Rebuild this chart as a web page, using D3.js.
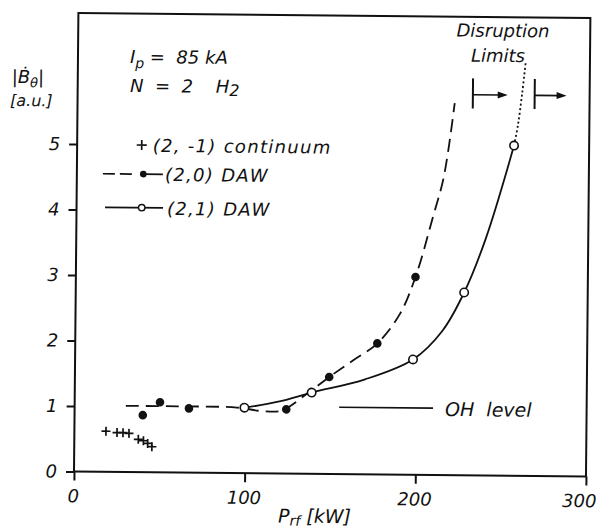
<!DOCTYPE html>
<html><head><meta charset="utf-8">
<script src="https://cdn.jsdelivr.net/npm/d3@7"></script>
<style>
html,body{margin:0;padding:0;background:#fff;}
svg text{font-family:"DejaVu Sans",sans-serif;font-style:oblique;fill:#111;}
</style></head><body>
<svg id="chart" width="597" height="529"></svg>
<script>
// (2,-1) continuum: rf power [kW] and |dB/dt| [a.u.]
const contP = [18.5, 25, 28.5, 32, 37.5, 40.5, 43, 45.5];
const contB = [0.62, 0.6, 0.6, 0.59, 0.5, 0.48, 0.44, 0.39];
// (2,0) DAW measurements
const daw20P = [40, 50, 67, 124, 149, 177, 199];
const daw20B = [0.87, 1.07, 0.98, 0.98, 1.48, 2.0, 3.02];
// (2,1) DAW measurements
const daw21P = [99.5, 138.8, 198, 227.6, 256];
const daw21B = [1.0, 1.24, 1.76, 2.79, 5.04];
// hand-drawn trend curves through the measurements
const fit20P = [30, 60, 95, 110, 121, 137, 149, 163, 177, 190, 199, 209, 215, 221];
const fit20B = [1.01, 1.01, 1.0, 0.95, 0.96, 1.24, 1.48, 1.74, 2.0, 2.45, 3.02, 3.95, 4.55, 5.68];
const fit21P = [100, 120, 138.8, 170, 198, 215, 227.6, 240, 256];
const fit21B = [1.0, 1.1, 1.24, 1.45, 1.76, 2.2, 2.79, 3.62, 5.04];
const extrapP = [256, 258.2, 260.5, 262.3];
const extrapB = [5.04, 5.36, 5.85, 6.3];
// disruption limits (start of arrow, arrow tip) and OH level
const limitP = [231.6, 267.8];
const limitTip = [252, 286.5];
const ohLevel = 1.02;
const ohRange = [155, 210];
// axis ticks
const xTicks = [0, 100, 200, 300];
const yTicks = [0, 1, 2, 3, 4, 5];

const ink = "#111";
const svg = d3.select("#chart");
const g = svg.append("g").attr("transform", "rotate(0.55,74,471.5)");

const x = d3.scaleLinear().domain([0, 300]).range([74, 586]);
const y = d3.scaleLinear().domain([0, 7]).range([471.5, 13]);

// plot frame
g.append("path")
  .attr("d", `M${x(0)},${y(7)}H${x(300)}V${y(0)}H${x(0)}Z`)
  .attr("fill", "none").attr("stroke", ink).attr("stroke-width", 2);

// axes
const xAxis = g.append("g").attr("transform", `translate(0,${y(0)})`)
  .call(d3.axisBottom(x).tickValues(xTicks).tickFormat(d3.format("d"))
    .tickSize(9).tickSizeOuter(0).tickPadding(9));
const yAxis = g.append("g").attr("transform", `translate(${x(0)},0)`)
  .call(d3.axisLeft(y).tickValues(yTicks).tickFormat(d3.format("d"))
    .tickSize(8).tickSizeOuter(0).tickPadding(9));
[xAxis, yAxis].forEach(a => {
  a.select(".domain").remove();
  a.selectAll("line").attr("stroke", ink).attr("stroke-width", 2);
  a.selectAll("text").attr("font-size", 18).attr("font-family", null).attr("fill", ink);
});
xAxis.selectAll("text").attr("dx", d => d === 300 ? -7 : -1);

// trend curves
const line = d3.line().x(d => x(d[0])).y(d => y(d[1])).curve(d3.curveCatmullRom.alpha(0.5));
g.append("path").datum(d3.zip(fit20P, fit20B)).attr("d", line)
  .attr("fill", "none").attr("stroke", ink).attr("stroke-width", 1.8).attr("stroke-dasharray", "13,7");
g.append("path").datum(d3.zip(fit21P, fit21B)).attr("d", line)
  .attr("fill", "none").attr("stroke", ink).attr("stroke-width", 1.8);
g.append("path").datum(d3.zip(extrapP, extrapB)).attr("d", line)
  .attr("fill", "none").attr("stroke", ink).attr("stroke-width", 1.8).attr("stroke-dasharray", "2,2.5");

// markers
g.selectAll(".cont").data(d3.zip(contP, contB)).join("path").attr("class", "cont")
  .attr("transform", d => `translate(${x(d[0])},${y(d[1])})`)
  .attr("d", "M-4.5,0H4.5M0,-4.5V4.5").attr("stroke", ink).attr("stroke-width", 1.7);
g.selectAll(".d20").data(d3.zip(daw20P, daw20B)).join("circle").attr("class", "d20")
  .attr("cx", d => x(d[0])).attr("cy", d => y(d[1])).attr("r", 4.3).attr("fill", ink);
g.selectAll(".d21").data(d3.zip(daw21P, daw21B)).join("circle").attr("class", "d21")
  .attr("cx", d => x(d[0])).attr("cy", d => y(d[1])).attr("r", 4.2)
  .attr("fill", "#fff").attr("stroke", ink).attr("stroke-width", 1.6);

// disruption limit arrows
limitP.forEach((p, i) => {
  g.append("line").attr("x1", x(p)).attr("x2", x(p)).attr("y1", y(5.6)).attr("y2", y(6.06))
    .attr("stroke", ink).attr("stroke-width", 2);
  const tip = x(limitTip[i]), yy = y(5.81);
  g.append("line").attr("x1", x(p)).attr("x2", tip - 6).attr("y1", yy).attr("y2", yy)
    .attr("stroke", ink).attr("stroke-width", 1.6);
  g.append("path").attr("d", `M${tip},${yy}L${tip - 10},${yy - 3.5}L${tip - 10},${yy + 3.5}Z`).attr("fill", ink);
});

// OH level reference
g.append("line").attr("x1", x(ohRange[0])).attr("x2", x(ohRange[1]))
  .attr("y1", y(ohLevel)).attr("y2", y(ohLevel)).attr("stroke", ink).attr("stroke-width", 1.6);
g.append("text").attr("x", 444.5).attr("y", 412.4).attr("font-size", 19)
  .attr("xml:space", "preserve").text("OH  level");

// annotations
g.append("text").attr("x", 498.8).attr("y", 32.9).attr("font-size", 18).attr("text-anchor", "middle").text("Disruption");
g.append("text").attr("x", 494).attr("y", 57.9).attr("font-size", 18).attr("text-anchor", "middle").text("Limits");

const ip = g.append("text").attr("x", 126).attr("y", 62.5).attr("font-size", 18).attr("xml:space", "preserve");
ip.append("tspan").text("I");
ip.append("tspan").attr("dy", 5).attr("font-size", 14).text("p");
ip.append("tspan").attr("dy", -5).text(" =  85 kA");

const nn = g.append("text").attr("x", 126.4).attr("y", 91.5).attr("font-size", 18).attr("xml:space", "preserve");
nn.append("tspan").text("N  =  2    H");
nn.append("tspan").attr("dy", 3).attr("font-size", 16).text("2");

// y axis title
const yl = g.append("text").attr("x", 8).attr("y", 83.6).attr("font-size", 18);
yl.append("tspan").text("|Ḃ");
yl.append("tspan").attr("dy", 4).attr("font-size", 13).text("θ");
yl.append("tspan").attr("dy", -4).text("|");
g.append("text").attr("x", 6.5).attr("y", 106.6).attr("font-size", 16).text("[a.u.]");

// x axis title
const xl = g.append("text").attr("x", 278.5).attr("y", 520.5).attr("font-size", 19).attr("xml:space", "preserve");
xl.append("tspan").text("P");
xl.append("tspan").attr("dy", 3).attr("font-size", 14).text("rf");
xl.append("tspan").attr("dy", -3).text(" [kW]");

// legend
g.append("path").attr("transform", "translate(138.6,144.4)")
  .attr("d", "M-5,0H5M0,-5V5").attr("stroke", ink).attr("stroke-width", 1.7);
g.append("text").attr("x", 149.6).attr("y", 151.2).attr("font-size", 18)
  .attr("letter-spacing", 1.3).attr("xml:space", "preserve").text("(2, -1) continuum");

g.append("line").attr("x1", 100).attr("x2", 129).attr("y1", 173.5).attr("y2", 173.5)
  .attr("stroke", ink).attr("stroke-width", 1.7).attr("stroke-dasharray", "12,5");
g.append("line").attr("x1", 140.4).attr("x2", 160).attr("y1", 173.5).attr("y2", 173.5)
  .attr("stroke", ink).attr("stroke-width", 1.7);
g.append("circle").attr("cx", 140.4).attr("cy", 173.5).attr("r", 3.3).attr("fill", ink);
g.append("text").attr("x", 162.2).attr("y", 180.1).attr("font-size", 18)
  .attr("letter-spacing", 1.3).text("(2,0) DAW");

g.append("line").attr("x1", 102.5).attr("x2", 160.5).attr("y1", 207).attr("y2", 207)
  .attr("stroke", ink).attr("stroke-width", 1.7);
g.append("circle").attr("cx", 139.2).attr("cy", 207).attr("r", 3.2)
  .attr("fill", "#fff").attr("stroke", ink).attr("stroke-width", 1.4);
g.append("text").attr("x", 164.5).attr("y", 214.1).attr("font-size", 18)
  .attr("letter-spacing", 1.3).text("(2,1) DAW");
</script>
</body></html>
